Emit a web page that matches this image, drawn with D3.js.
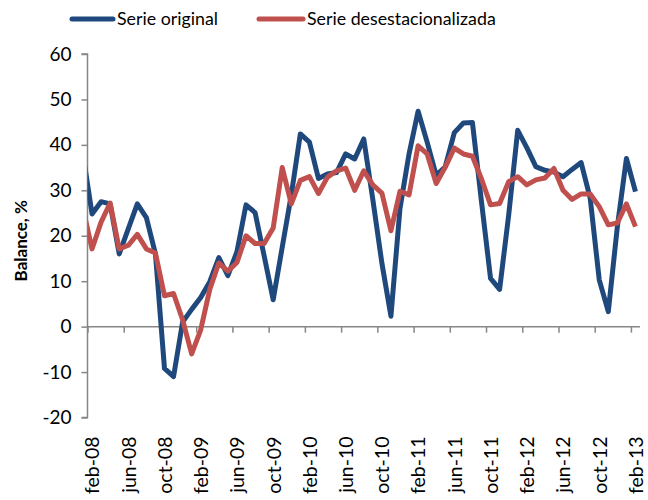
<!DOCTYPE html>
<html>
<head>
<meta charset="utf-8">
<script src="https://cdn.jsdelivr.net/npm/d3@7"></script>
<style>
  body { margin: 0; background: #fff; }
  svg { display: block; font-family: Lato, "Open Sans", sans-serif; }
</style>
</head>
<body>
<svg id="chart" width="648" height="500"></svg>
<script>
// Categories: monthly, jan-08 (just before the visible axis start) to feb-13
const categories = [
  "ene-08","feb-08","mar-08","abr-08","may-08","jun-08","jul-08","ago-08","sep-08","oct-08","nov-08","dic-08",
  "ene-09","feb-09","mar-09","abr-09","may-09","jun-09","jul-09","ago-09","sep-09","oct-09","nov-09","dic-09",
  "ene-10","feb-10","mar-10","abr-10","may-10","jun-10","jul-10","ago-10","sep-10","oct-10","nov-10","dic-10",
  "ene-11","feb-11","mar-11","abr-11","may-11","jun-11","jul-11","ago-11","sep-11","oct-11","nov-11","dic-11",
  "ene-12","feb-12","mar-12","abr-12","may-12","jun-12","jul-12","ago-12","sep-12","oct-12","nov-12","dic-12",
  "ene-13","feb-13"
];
const serieOriginal = [
  38.0,
  24.8, 27.5, 27.0, 16.0, 21.5, 27.0, 24.0, 16.0, -9.2, -11.0, 1.0,
  3.8, 6.4, 9.9, 15.2, 11.2, 16.5, 26.8, 25.1, 15.6, 5.9, 17.5, 29.0,
  42.4, 40.6, 32.6, 33.6, 33.9, 38.0, 36.9, 41.3, 28.0, 14.0, 2.3, 26.0,
  38.0, 47.4, 40.6, 33.3, 35.2, 42.7, 44.8, 44.9, 27.5, 10.6, 8.2, 24.5,
  43.2, 39.4, 35.2, 34.4, 34.0, 33.0, 34.6, 36.1, 28.3, 10.3, 3.3, 22.0,
  37.0, 29.7
];
const serieDesest = [
  26.0,
  17.1, 23.0, 27.2, 17.1, 17.9, 20.3, 17.1, 16.2, 6.8, 7.3, 1.5,
  -6.0, -0.7, 8.2, 14.0, 12.2, 14.1, 20.0, 18.3, 18.3, 21.7, 35.0, 27.0,
  32.2, 33.0, 29.3, 32.9, 34.3, 34.9, 30.0, 34.3, 31.2, 29.4, 21.1, 29.8,
  29.0, 39.8, 38.0, 31.5, 35.1, 39.3, 38.0, 37.5, 32.5, 26.8, 27.1, 31.9,
  33.0, 31.2, 32.3, 32.7, 34.8, 30.0, 28.0, 29.2, 29.2, 26.4, 22.4, 22.8,
  27.0, 22.0
];
const xTickLabels = ["feb-08","jun-08","oct-08","feb-09","jun-09","oct-09","feb-10","jun-10",
                     "oct-10","feb-11","jun-11","oct-11","feb-12","jun-12","oct-12","feb-13"];
const yTicks = [-20, -10, 0, 10, 20, 30, 40, 50, 60];
const seriesNames = ["Serie original", "Serie desestacionalizada"];
const colors = ["#1F497D", "#C0504D"];

const svg = d3.select("#chart");
const mLeft = 87.5, mRight = 640, mTop = 54, mBottom = 417.5;

const firstVis = categories.indexOf("feb-08");
const lastVis = categories.indexOf("feb-13");
const x = d3.scaleLinear().domain([firstVis - 0.5, lastVis + 0.5]).range([mLeft, mRight]);
const y = d3.scaleLinear().domain([-20, 60]).range([mBottom, mTop]);

const axisColor = "#868686";

svg.append("defs").append("clipPath").attr("id", "plotclip")
  .append("rect").attr("x", mLeft).attr("y", 0).attr("width", mRight - mLeft).attr("height", 500);

// Y axis
const yAxis = d3.axisLeft(y).tickValues(yTicks).tickSize(6).tickPadding(10).tickFormat(d => String(d));
const gy = svg.append("g").attr("transform", `translate(${mLeft},0)`).call(yAxis);
gy.select(".domain").attr("stroke", axisColor).attr("stroke-width", 1.5).attr("d", `M-6,${y(-20)}H0V${y(60)}H-6`);
gy.selectAll(".tick line").attr("stroke", axisColor).attr("stroke-width", 1.5);
gy.selectAll(".tick text").attr("fill", "#000").style("font-size", "19px").style("font-family", "Lato, sans-serif");

// X axis line + tick marks at zero (boundaries every 4 categories)
const boundaries = xTickLabels.map(l => categories.indexOf(l) - 0.5);
const xAxisTicks = d3.axisBottom(x).tickValues(boundaries).tickSize(6).tickFormat("");
const gx = svg.append("g").attr("transform", `translate(0,${y(0)})`).call(xAxisTicks);
gx.select(".domain").attr("stroke", axisColor).attr("stroke-width", 1.5).attr("d", `M${mLeft},0H${mRight}`);
gx.selectAll(".tick line").attr("stroke", axisColor).attr("stroke-width", 1.5);

// X labels at the bottom, rotated, centered on their category
const xLabelAxis = d3.axisBottom(x).tickValues(xTickLabels.map(l => categories.indexOf(l)))
  .tickSize(0).tickFormat(d => categories[d]);
const gxl = svg.append("g").attr("transform", `translate(0,${mBottom})`).call(xLabelAxis);
gxl.select(".domain").remove();
gxl.selectAll(".tick text")
  .attr("fill", "#000")
  .style("font-size", "19.5px").style("font-family", "Lato, sans-serif")
  .attr("text-anchor", "end")
  .attr("dy", "0.35em")
  .attr("y", 0)
  .attr("x", 0)
  .attr("transform", "translate(0,19) rotate(-90)");

// Y axis title
svg.append("text")
  .attr("transform", `translate(27,${(mTop + mBottom) / 2 + 5}) rotate(-90)`)
  .attr("text-anchor", "middle")
  .style("font-size", "17px").style("font-weight", "bold").style("font-family", "Lato, sans-serif")
  .text("Balance, %");

// Lines
const line = d3.line().x((d, i) => x(i)).y(d => y(d));
const plot = svg.append("g").attr("clip-path", "url(#plotclip)");
[serieOriginal, serieDesest].forEach((s, k) => {
  plot.append("path").datum(s)
    .attr("fill", "none")
    .attr("stroke", colors[k])
    .attr("stroke-width", 5)
    .attr("stroke-linejoin", "round")
    .attr("d", line);
});

// Legend
const legendItems = [{x0: 72, x1: 113}, {x0: 259, x1: 303}];
legendItems.forEach((p, k) => {
  const g = svg.append("g");
  g.append("line").attr("x1", p.x0).attr("x2", p.x1).attr("y1", 19).attr("y2", 19)
    .attr("stroke", colors[k]).attr("stroke-width", 5).attr("stroke-linecap", "round");
  g.append("text").attr("x", p.x1 + 4).attr("y", 19).attr("dy", "0.35em")
    .style("font-size", "17.8px").style("font-family", "Lato, sans-serif")
    .text(seriesNames[k]);
});
</script>
</body>
</html>
